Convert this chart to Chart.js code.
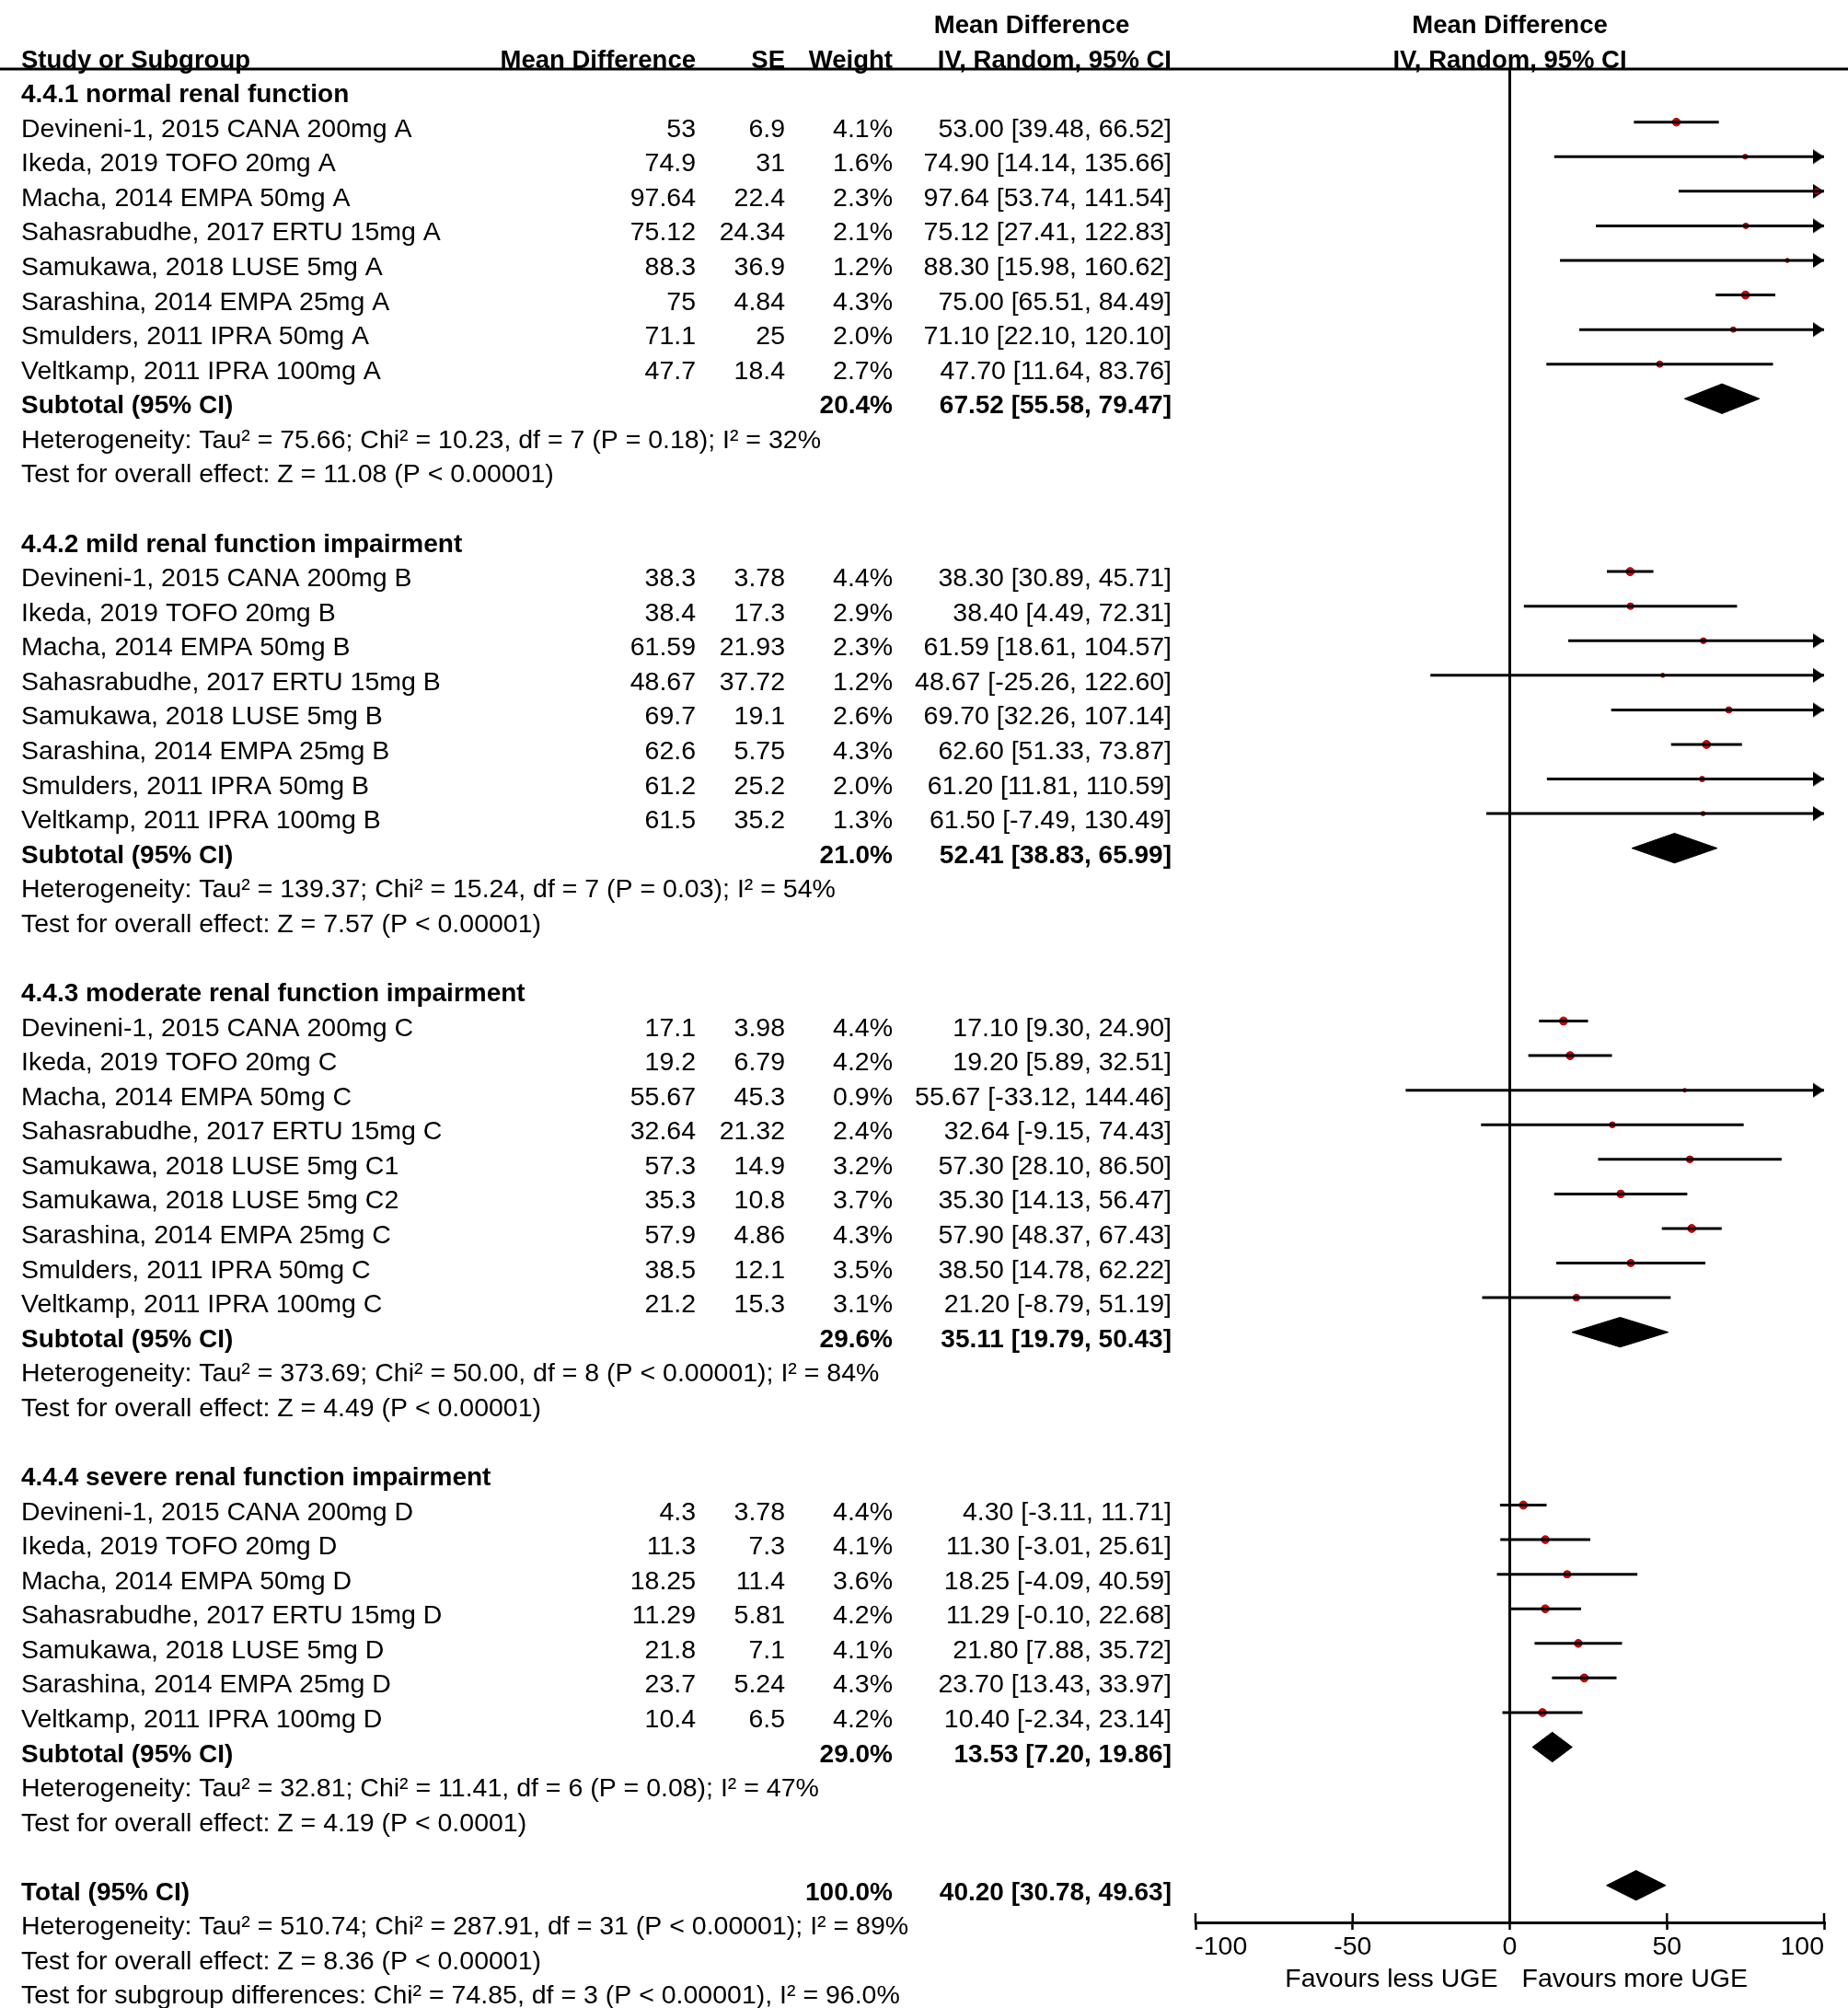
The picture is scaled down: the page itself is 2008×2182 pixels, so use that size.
<!DOCTYPE html>
<html>
<head>
<meta charset="utf-8">
<script src="https://cdn.jsdelivr.net/npm/chart.js@4/dist/chart.umd.min.js"></script>
<style>
  html, body { margin: 0; padding: 0; background: #fff; }
  canvas { display: block; }
</style>
</head>
<body>
<canvas id="forest" width="2008" height="2182"></canvas>
<script>
// ---- data ----
const groupTitles = [
    '4.4.1 normal renal function',
    '4.4.2 mild renal function impairment',
    '4.4.3 moderate renal function impairment',
    '4.4.4 severe renal function impairment'
];
const groupSizes = [8, 8, 9, 7];

const studyNames = [
    'Devineni-1, 2015 CANA 200mg A', 'Ikeda, 2019 TOFO 20mg A', 'Macha, 2014 EMPA 50mg A', 'Sahasrabudhe, 2017 ERTU 15mg A',
    'Samukawa, 2018 LUSE 5mg A', 'Sarashina, 2014 EMPA 25mg A', 'Smulders, 2011 IPRA 50mg A', 'Veltkamp, 2011 IPRA 100mg A',
    'Devineni-1, 2015 CANA 200mg B', 'Ikeda, 2019 TOFO 20mg B', 'Macha, 2014 EMPA 50mg B', 'Sahasrabudhe, 2017 ERTU 15mg B',
    'Samukawa, 2018 LUSE 5mg B', 'Sarashina, 2014 EMPA 25mg B', 'Smulders, 2011 IPRA 50mg B', 'Veltkamp, 2011 IPRA 100mg B',
    'Devineni-1, 2015 CANA 200mg C', 'Ikeda, 2019 TOFO 20mg C', 'Macha, 2014 EMPA 50mg C', 'Sahasrabudhe, 2017 ERTU 15mg C',
    'Samukawa, 2018 LUSE 5mg C1', 'Samukawa, 2018 LUSE 5mg C2', 'Sarashina, 2014 EMPA 25mg C', 'Smulders, 2011 IPRA 50mg C',
    'Veltkamp, 2011 IPRA 100mg C',
    'Devineni-1, 2015 CANA 200mg D', 'Ikeda, 2019 TOFO 20mg D', 'Macha, 2014 EMPA 50mg D', 'Sahasrabudhe, 2017 ERTU 15mg D',
    'Samukawa, 2018 LUSE 5mg D', 'Sarashina, 2014 EMPA 25mg D', 'Veltkamp, 2011 IPRA 100mg D'
];
const meanDiff = [53, 74.9, 97.64, 75.12, 88.3, 75, 71.1, 47.7,
    38.3, 38.4, 61.59, 48.67, 69.7, 62.6, 61.2, 61.5,
    17.1, 19.2, 55.67, 32.64, 57.3, 35.3, 57.9, 38.5, 21.2,
    4.3, 11.3, 18.25, 11.29, 21.8, 23.7, 10.4];
const stdErr = [6.9, 31, 22.4, 24.34, 36.9, 4.84, 25, 18.4,
    3.78, 17.3, 21.93, 37.72, 19.1, 5.75, 25.2, 35.2,
    3.98, 6.79, 45.3, 21.32, 14.9, 10.8, 4.86, 12.1, 15.3,
    3.78, 7.3, 11.4, 5.81, 7.1, 5.24, 6.5];
const weights = [4.1, 1.6, 2.3, 2.1, 1.2, 4.3, 2.0, 2.7,
    4.4, 2.9, 2.3, 1.2, 2.6, 4.3, 2.0, 1.3,
    4.4, 4.2, 0.9, 2.4, 3.2, 3.7, 4.3, 3.5, 3.1,
    4.4, 4.1, 3.6, 4.2, 4.1, 4.3, 4.2];
const ciLow = [39.48, 14.14, 53.74, 27.41, 15.98, 65.51, 22.10, 11.64,
    30.89, 4.49, 18.61, -25.26, 32.26, 51.33, 11.81, -7.49,
    9.30, 5.89, -33.12, -9.15, 28.10, 14.13, 48.37, 14.78, -8.79,
    -3.11, -3.01, -4.09, -0.10, 7.88, 13.43, -2.34];
const ciHigh = [66.52, 135.66, 141.54, 122.83, 160.62, 84.49, 120.10, 83.76,
    45.71, 72.31, 104.57, 122.60, 107.14, 73.87, 110.59, 130.49,
    24.90, 32.51, 144.46, 74.43, 86.50, 56.47, 67.43, 62.22, 51.19,
    11.71, 25.61, 40.59, 22.68, 35.72, 33.97, 23.14];

const subWeight = [20.4, 21.0, 29.6, 29.0];
const subMean = [67.52, 52.41, 35.11, 13.53];
const subLow = [55.58, 38.83, 19.79, 7.20];
const subHigh = [79.47, 65.99, 50.43, 19.86];
const subHetText = [
    'Heterogeneity: Tau² = 75.66; Chi² = 10.23, df = 7 (P = 0.18); I² = 32%',
    'Heterogeneity: Tau² = 139.37; Chi² = 15.24, df = 7 (P = 0.03); I² = 54%',
    'Heterogeneity: Tau² = 373.69; Chi² = 50.00, df = 8 (P < 0.00001); I² = 84%',
    'Heterogeneity: Tau² = 32.81; Chi² = 11.41, df = 6 (P = 0.08); I² = 47%'
];
const subEffectText = [
    'Test for overall effect: Z = 11.08 (P < 0.00001)',
    'Test for overall effect: Z = 7.57 (P < 0.00001)',
    'Test for overall effect: Z = 4.49 (P < 0.00001)',
    'Test for overall effect: Z = 4.19 (P < 0.0001)'
];

const totalWeight = 100.0;
const totalMean = 40.20, totalLow = 30.78, totalHigh = 49.63;
const totalTexts = [
    'Heterogeneity: Tau² = 510.74; Chi² = 287.91, df = 31 (P < 0.00001); I² = 89%',
    'Test for overall effect: Z = 8.36 (P < 0.00001)',
    'Test for subgroup differences: Chi² = 74.85, df = 3 (P < 0.00001), I² = 96.0%'
];
const axisTicks = [-100, -50, 0, 50, 100];
const favoursLeft = 'Favours less UGE';
const favoursRight = 'Favours more UGE';

// ---- layout ----
const ROW_H = 37.57, ROW0 = 20;          // pixel centre of row 0
const PLOT_TOP = 75, PLOT_BOTTOM = 2089;
const PLOT_LEFT = 1299, PLOT_RIGHT = 1982;
const FONT = '"Liberation Sans", Arial, sans-serif';
const FS = 28.5;
const COL = { name: 23, md: 756, se: 853, wt: 970, ci: 1273, hd1: 1121 };
const DIAMOND_H = 0.43;   // half height, in rows

const fmt2 = v => v.toFixed(2);
const ciText = (m, l, h) => `${fmt2(m)} [${fmt2(l)}, ${fmt2(h)}]`;

// assign rows: 0/1 header, then groups
const studyRow = [], subRow = [], textRows = [];
let r = 2, k = 0;
groupSizes.forEach((n, g) => {
    textRows.push({ r, cells: [[groupTitles[g], COL.name, 'left', true]] });
    r++;
    for (let i = 0; i < n; i++, k++) {
        studyRow.push(r);
        textRows.push({ r, cells: [
            [studyNames[k], COL.name, 'left', false],
            [String(meanDiff[k]), COL.md, 'right', false],
            [String(stdErr[k]), COL.se, 'right', false],
            [weights[k].toFixed(1) + '%', COL.wt, 'right', false],
            [ciText(meanDiff[k], ciLow[k], ciHigh[k]), COL.ci, 'right', false]
        ] });
        r++;
    }
    subRow.push(r);
    textRows.push({ r, cells: [
        ['Subtotal (95% CI)', COL.name, 'left', true],
        [subWeight[g].toFixed(1) + '%', COL.wt, 'right', true],
        [ciText(subMean[g], subLow[g], subHigh[g]), COL.ci, 'right', true]
    ] });
    textRows.push({ r: r + 1, cells: [[subHetText[g], COL.name, 'left', false]] });
    textRows.push({ r: r + 2, cells: [[subEffectText[g], COL.name, 'left', false]] });
    r += 4;
});
const totalRow = r;
textRows.push({ r, cells: [
    ['Total (95% CI)', COL.name, 'left', true],
    [totalWeight.toFixed(1) + '%', COL.wt, 'right', true],
    [ciText(totalMean, totalLow, totalHigh), COL.ci, 'right', true]
] });
totalTexts.forEach((t, i) => textRows.push({ r: r + 1 + i, cells: [[t, COL.name, 'left', false]] }));

// ---- datasets ----
const datasets = [];
const xMin = axisTicks[0], xMax = axisTicks[axisTicks.length - 1];

studyRow.forEach((row, i) => {
    datasets.push({
        data: [{ x: ciLow[i], y: row }, { x: ciHigh[i], y: row }],
        showLine: true, borderColor: '#000', borderWidth: 3, pointRadius: 0
    });
});

const diamond = (m, l, h, row) => ({
    data: [{ x: l, y: row }, { x: m, y: row - DIAMOND_H }, { x: h, y: row },
           { x: m, y: row + DIAMOND_H }, { x: l, y: row }],
    showLine: true, fill: 'shape', tension: 0,
    borderColor: '#000', borderWidth: 1, backgroundColor: '#000', pointRadius: 0
});
subRow.forEach((row, g) => datasets.push(diamond(subMean[g], subLow[g], subHigh[g], row)));
datasets.push(diamond(totalMean, totalLow, totalHigh, totalRow));

datasets.push({
    data: studyRow.map((row, i) => ({ x: meanDiff[i], y: row })),
    pointStyle: 'circle',
    pointRadius: studyRow.map((row, i) => 2.1 * Math.sqrt(weights[i])),
    backgroundColor: '#d60000', borderColor: '#9a0000', borderWidth: 1
});

// arrow head whose tip sits at the centre of the image
const arrow = document.createElement('canvas');
arrow.width = 30; arrow.height = 20;
(() => {
    const c = arrow.getContext('2d');
    c.fillStyle = '#000';
    c.beginPath(); c.moveTo(3, 2); c.lineTo(15, 10); c.lineTo(3, 18); c.closePath(); c.fill();
})();
datasets.push({
    data: studyRow.map((row, i) => ciHigh[i] > xMax ? { x: xMax, y: row } : null).filter(p => p),
    pointStyle: arrow, clip: false, pointRadius: 10
});

// ---- text drawn on the same row scale ----
const tablePlugin = {
    id: 'tableText',
    afterDraw(chart) {
        const { ctx } = chart;
        const ys = chart.scales.y, xs = chart.scales.x;
        const base = row => ys.getPixelForValue(row) + 16;
        ctx.save();
        ctx.fillStyle = '#000';
        ctx.textBaseline = 'alphabetic';

        // header
        ctx.font = `bold 27.5px ${FONT}`;
        const hdr = (t, x, row, align) => { ctx.textAlign = align; ctx.fillText(t, x, base(row)); };
        hdr('Study or Subgroup', COL.name, 1, 'left');
        hdr('Mean Difference', COL.md, 1, 'right');
        hdr('SE', COL.se, 1, 'right');
        hdr('Weight', COL.wt, 1, 'right');
        hdr('Mean Difference', COL.hd1, 0, 'center');
        hdr('IV, Random, 95% CI', COL.ci, 1, 'right');
        const zx = xs.getPixelForValue(0);
        hdr('Mean Difference', zx, 0, 'center');
        hdr('IV, Random, 95% CI', zx, 1, 'center');

        ctx.strokeStyle = '#000';
        ctx.lineWidth = 3;
        ctx.beginPath(); ctx.moveTo(0, PLOT_TOP); ctx.lineTo(chart.width, PLOT_TOP); ctx.stroke();

        textRows.forEach(row => {
            row.cells.forEach(([t, x, align, bold]) => {
                ctx.font = `${bold ? 'bold 28px' : FS + 'px'} ${FONT}`;
                ctx.textAlign = align;
                ctx.fillText(t, x, base(row.r));
            });
        });

        // tick marks crossing the axis
        const ay = xs.top;
        ctx.lineWidth = 2.5;
        xs.ticks.forEach(t => {
            const px = xs.getPixelForValue(t.value);
            ctx.beginPath(); ctx.moveTo(px, ay - 10); ctx.lineTo(px, ay); ctx.stroke();
        });

        ctx.font = `${FS}px ${FONT}`;
        ctx.textAlign = 'right';
        ctx.fillText(favoursLeft, zx - 13, ay + 70);
        ctx.textAlign = 'left';
        ctx.fillText(favoursRight, zx + 13, ay + 70);
        ctx.restore();
    }
};

Chart.defaults.font.family = FONT;
Chart.defaults.color = '#000';

new Chart(document.getElementById('forest'), {
    type: 'scatter',
    data: { datasets },
    options: {
        responsive: false,
        animation: false,
        devicePixelRatio: 1,
        events: [],
        layout: { padding: { left: PLOT_LEFT, right: 2008 - PLOT_RIGHT, top: PLOT_TOP, bottom: 0 } },
        plugins: { legend: { display: false }, tooltip: { enabled: false } },
        scales: {
            x: {
                type: 'linear', position: 'bottom', min: xMin, max: xMax,
                afterFit: s => {
                    s.height = 2182 - PLOT_BOTTOM;
                    s.paddingLeft = 0; s.paddingRight = 0;
                },
                afterBuildTicks: s => { s.ticks = axisTicks.map(v => ({ value: v })); },
                ticks: {
                    font: { size: FS }, color: '#000', padding: 2, maxRotation: 0, autoSkip: false,
                    // end labels sit inside the axis, as in the original
                    callback: v => v === xMin ? '       ' + v : (v === xMax ? v + '      ' : String(v))
                },
                border: { display: true, color: '#000', width: 3 },
                grid: {
                    drawOnChartArea: true,
                    color: c => (c.tick && c.tick.value === 0) ? '#000' : 'rgba(0,0,0,0)',
                    lineWidth: 3,
                    tickColor: '#000', tickWidth: 2.5, tickLength: 8
                }
            },
            y: {
                type: 'linear', display: false, reverse: true,
                min: (PLOT_TOP - ROW0) / ROW_H,
                max: (PLOT_BOTTOM - ROW0) / ROW_H
            }
        }
    },
    plugins: [tablePlugin]
});
</script>
</body>
</html>
